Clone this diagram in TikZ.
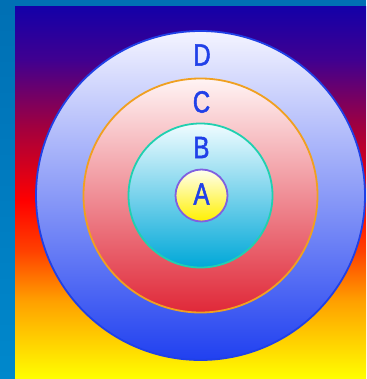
\documentclass[tikz,border=0pt]{standalone}
\usepackage{fontspec}
\newfontfamily\lblfont[FakeStretch=0.78,FakeBold=1.6]{Liberation Sans}
\definecolor{bgY}{HTML}{FFFF00}
\definecolor{bgO}{HTML}{FFA000}
\definecolor{bgOR}{HTML}{FF4000}
\definecolor{bgR}{HTML}{FF0000}
\definecolor{bgC}{HTML}{A00040}
\definecolor{bgP}{HTML}{400090}
\definecolor{bgB}{HTML}{1400A8}
\definecolor{deskA}{HTML}{0070B4}
\definecolor{deskB}{HTML}{0088CC}
\definecolor{lblblue}{HTML}{2040E8}
\pgfdeclareverticalshading{bgshade}{100bp}{%
  color(0bp)=(bgY); color(25bp)=(bgY); color(35.5bp)=(bgO); color(42.3bp)=(bgOR);
  color(49bp)=(bgR); color(59bp)=(bgC); color(67.9bp)=(bgP); color(75bp)=(bgB); color(100bp)=(bgB)}
\begin{document}
\begin{tikzpicture}[x=1pt,y=-1pt,
  ring/.style={line width=1.8pt},
  lbl/.style={text=lblblue,inner sep=0pt,font=\lblfont\fontsize{30.7}{30}\selectfont}]
\useasboundingbox (0,0) rectangle (366,379);
\fill[deskA] (0,0) rectangle (366,379);
\shade[top color=deskA,bottom color=deskB] (0,7) rectangle (15,379);
\shade[shading=bgshade] (15,7) rectangle (366,379);
\coordinate (O) at (200.5,195.5);
\shade[top color={rgb,255:red,244;green,244;blue,255},bottom color={rgb,255:red,32;green,64;blue,240}]
  (O) circle[radius=164.5];
\draw[ring,draw={rgb,255:red,32;green,64;blue,230}] (O) circle[radius=164.5];
\shade[top color={rgb,255:red,255;green,244;blue,244},bottom color={rgb,255:red,224;green,40;blue,56}]
  (O) circle[radius=117];
\draw[ring,draw={rgb,255:red,240;green,160;blue,32}] (O) circle[radius=117];
\shade[top color={rgb,255:red,240;green,252;blue,255},bottom color={rgb,255:red,0;green,168;blue,216}]
  (O) circle[radius=72];
\draw[ring,draw={rgb,255:red,32;green,208;blue,176}] (O) circle[radius=72];
\shade[top color={rgb,255:red,255;green,255;blue,240},bottom color={rgb,255:red,255;green,240;blue,0}]
  (201.5,195.5) circle[radius=26];
\draw[ring,draw={rgb,255:red,128;green,96;blue,224}] (201.5,195.5) circle[radius=26];
\node[lbl] (D) at (202,55) {D};
\node[lbl] (C) at (201.5,102) {C};
\node[lbl] (B) at (201.5,147.5) {B};
\node[lbl] (A) at (201.5,194) {A};
\end{tikzpicture}
\end{document}
